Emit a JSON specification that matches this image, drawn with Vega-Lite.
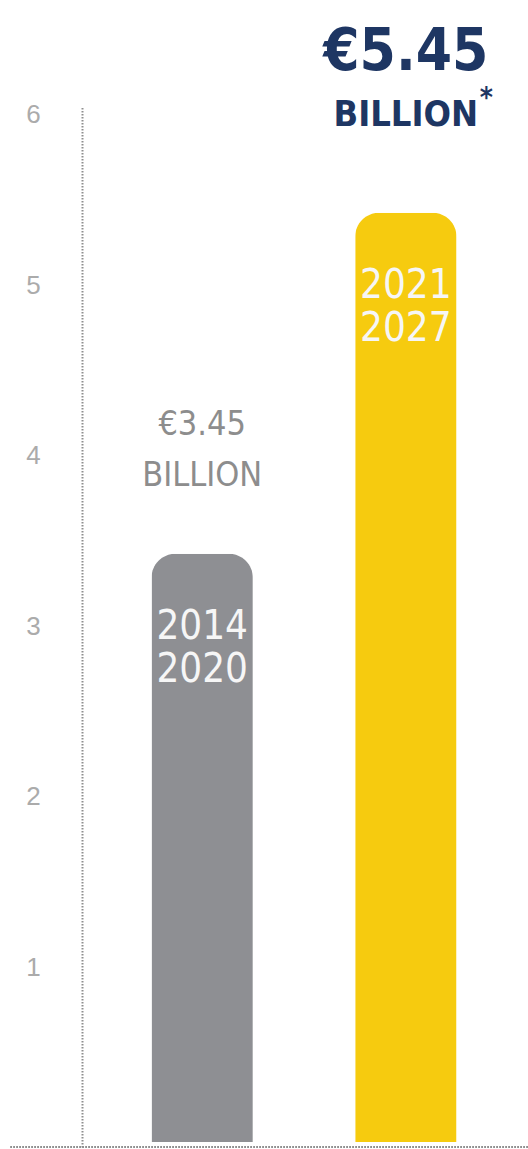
{
  "$schema": "https://vega.github.io/schema/vega-lite/v6.json",
  "width": 518,
  "height": 1040,
  "autosize": "none",
  "padding": {"left": 10, "top": 107, "right": 0, "bottom": 2},
  "background": "white",
  "config": {"view": {"stroke": null}},
  "data": {"values": [
    {"period": "2014–2020", "years": "2014\n2020", "value": 3.45, "amount": "€3.45", "unit": "BILLION", "note": ""},
    {"period": "2021–2027", "years": "2021\n2027", "value": 5.45, "amount": "€5.45", "unit": "BILLION", "note": "*"}
  ]},
  "encoding": {
    "x": {"field": "period", "type": "nominal", "sort": null,
      "scale": {"range": [141.5, 446.5], "paddingInner": 0.5025, "paddingOuter": 0},
      "axis": null},
    "y": {"field": "value", "type": "quantitative",
      "scale": {"domain": [-0.03, 6.07], "nice": false, "zero": false},
      "axis": {"title": null, "orient": "left", "offset": -72, "values": [1, 2, 3, 4, 5, 6],
        "ticks": false, "grid": false, "domain": true, "domainDash": [1.6, 1.4], "domainColor": "#8f8f8f", "domainWidth": 2,
        "labelFont": "Liberation Sans", "labelFontSize": 26, "labelColor": "#ababab", "labelAlign": "center",
        "labelPadding": 49, "labelOffset": -4}}
  },
  "layer": [
    {"mark": {"type": "rule", "strokeDash": [1.6, 1.4], "color": "#8f8f8f", "strokeWidth": 2},
      "encoding": {"x": null, "y": {"datum": -0.03}}},
    {"mark": {"type": "bar", "cornerRadiusTopLeft": 24, "cornerRadiusTopRight": 24},
      "encoding": {"color": {"field": "period", "type": "nominal", "sort": null,
        "scale": {"range": ["#8e8f93", "#f6cb0f"]}, "legend": null}}},
    {"mark": {"type": "text", "font": "Liberation Sans Narrow, DejaVu Sans Condensed, sans-serif", "fontSize": 40,
      "color": "#f6f6f6", "baseline": "alphabetic", "align": "center", "dy": 85, "lineBreak": "\n", "lineHeight": 43},
      "encoding": {"text": {"field": "years"}}},
    {"transform": [{"filter": "datum.value < 4"}],
      "mark": {"type": "text", "font": "Liberation Sans Narrow, DejaVu Sans Condensed, sans-serif", "fontSize": 34,
        "color": "#8d8d8d", "baseline": "alphabetic", "align": "center", "dy": -119},
      "encoding": {"text": {"field": "amount"}}},
    {"transform": [{"filter": "datum.value < 4"}],
      "mark": {"type": "text", "font": "Liberation Sans Narrow, DejaVu Sans Condensed, sans-serif", "fontSize": 34,
        "color": "#8d8d8d", "baseline": "alphabetic", "align": "center", "dy": -68},
      "encoding": {"text": {"field": "unit"}}},
    {"transform": [{"filter": "datum.value > 4"}],
      "mark": {"type": "text", "font": "Liberation Sans Narrow, DejaVu Sans Condensed, sans-serif", "fontSize": 58, "fontWeight": "bold",
        "color": "#1e3663", "baseline": "alphabetic", "align": "center", "dy": -143},
      "encoding": {"text": {"field": "amount"}}},
    {"transform": [{"filter": "datum.value > 4"}],
      "mark": {"type": "text", "font": "Liberation Sans Narrow, DejaVu Sans Condensed, sans-serif", "fontSize": 36, "fontWeight": "bold",
        "color": "#1e3663", "baseline": "alphabetic", "align": "center", "dy": -87},
      "encoding": {"text": {"field": "unit"}}},
    {"transform": [{"filter": "datum.value > 4"}],
      "mark": {"type": "text", "font": "Liberation Sans Narrow, DejaVu Sans Condensed, sans-serif", "fontSize": 28, "fontWeight": "bold",
        "color": "#1e3663", "baseline": "alphabetic", "align": "left", "dx": 74, "dy": -106},
      "encoding": {"text": {"field": "note"}}}
  ]
}
